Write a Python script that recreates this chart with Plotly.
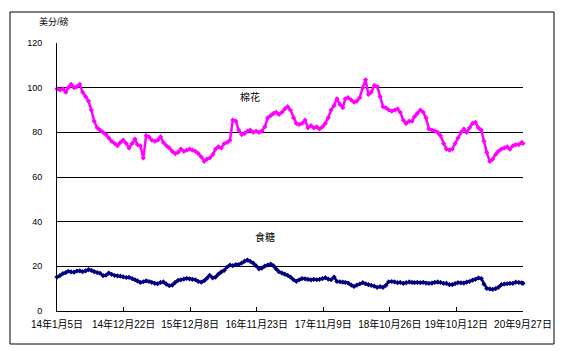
import plotly.graph_objects as go

# ---------------- data ----------------
tick_dates = ["2014-01-05", "2014-12-22", "2015-12-08", "2016-11-23",
              "2017-11-09", "2018-10-26", "2019-10-12", "2020-09-27"]
tick_labels = ["14年1月5日", "14年12月22日", "15年12月8日", "16年11月23日",
               "17年11月9日", "18年10月26日", "19年10月12日", "20年9月27日"]

# sampling dates: 5th and 20th of every month, Jan 2014 - Sep 2020, plus last date
dates = []
for y in range(2014, 2021):
    for m in range(1, 13):
        if y == 2020 and m > 9:
            break
        dates.append(f"{y}-{m:02d}-05")
        dates.append(f"{y}-{m:02d}-20")
dates.append("2020-09-27")

cotton_2014 = [99.5, 99, 99.5, 98, 100, 101.5, 100, 100.5, 101.5, 98, 96, 94,
               90, 85, 82, 81, 80, 79, 77.5, 76, 75, 74, 75.5, 76.5]
cotton_2015 = [75, 73, 75, 77, 74.5, 74, 68.5, 78.5, 78, 76.5, 76, 76.5,
               78, 75.5, 74, 73, 71.5, 70.5, 71, 72.5, 71.5, 72, 72.5, 72]
cotton_2016 = [71.5, 70.5, 69, 67, 68, 68.5, 70, 72.5, 73.5, 73, 75, 75.5,
               76.5, 85.5, 85, 81, 79, 79.5, 80.5, 81, 80, 80.5, 80, 80.5]
cotton_2017 = [82.5, 86.5, 87.5, 88.5, 89, 88, 89, 90.5, 91.5, 90, 86.5, 84,
               83.5, 84, 85.5, 82, 83, 82, 82.5, 81.5, 82.5, 84, 86.5, 90]
cotton_2018 = [92, 95, 92.5, 91, 95, 95.5, 94.5, 93.5, 94, 95.5, 100, 103.5,
               97, 98, 101, 100.5, 96, 91.5, 91, 90, 89.5, 90, 90.5, 89]
cotton_2019 = [85.5, 84, 85, 85, 87, 88.5, 90, 89, 86.5, 81.5, 81, 80.5,
               80, 78.5, 75, 72.5, 72, 72.5, 75, 77.5, 80, 81.5, 80, 82]
cotton_2020 = [84, 84.5, 82, 81, 76, 71, 67, 68, 70, 71.5, 72.5, 73,
               73.5, 72.5, 74, 74.5, 74.5, 75.5, 75]

sugar_2014 = [15.2, 15.8, 16.8, 17.2, 17.8, 17.5, 17.4, 17.9, 18, 17.6, 18, 18.5,
              18.2, 17.6, 17.2, 16.9, 15.8, 16, 17, 16.4, 15.9, 15.7, 15.6, 15.3]
sugar_2015 = [15, 15.1, 14.5, 14, 13.5, 12.8, 13.1, 13.5, 13.2, 12.8, 12.4, 12.2,
              12.8, 13, 12, 11.3, 11.6, 12.8, 13.7, 14, 14.3, 14.6, 14.4, 14.2]
sugar_2016 = [14, 13.2, 12.9, 13.6, 14.6, 16, 14.8, 15.2, 16.5, 17.5, 18.2, 19.7,
              20.6, 20.3, 20.8, 20.8, 21.5, 22.3, 22.8, 22.2, 21.4, 20.2, 18.9, 19.2]
sugar_2017 = [20.1, 20.6, 21, 20.2, 18.9, 17.6, 17, 16.5, 16, 15.2, 14, 13.3,
              14, 14.5, 14.4, 14.2, 13.9, 14.2, 14, 14.2, 14.5, 14.9, 14.3, 14]
sugar_2018 = [15.2, 13.2, 13.1, 12.9, 12.8, 12.5, 11.6, 11, 11.6, 12.1, 12.7, 12.2,
              11.8, 11.5, 11.1, 10.6, 10.9, 10.6, 11.5, 13.1, 13.2, 13, 12.7, 12.8]
sugar_2019 = [12.4, 12.7, 13, 12.8, 12.7, 12.8, 12.7, 12.8, 12.5, 12.4, 12.5, 12.8,
              13, 12.8, 12.4, 12.4, 11.8, 11.8, 12.3, 12.7, 12.6, 12.5, 12.9, 13.2]
sugar_2020 = [13.8, 14.2, 14.8, 14.5, 12, 10.1, 9.9, 9.7, 10, 10.6, 11.8, 12.1,
              12.2, 12.4, 12.4, 12.9, 12.8, 12.6, 12.4]

cotton = (cotton_2014 + cotton_2015 + cotton_2016 + cotton_2017 +
          cotton_2018 + cotton_2019 + cotton_2020)
sugar = (sugar_2014 + sugar_2015 + sugar_2016 + sugar_2017 +
         sugar_2018 + sugar_2019 + sugar_2020)

# ---------------- figure ----------------
FONT = "Liberation Sans, Arial, Noto Sans CJK SC, sans-serif"

fig = go.Figure()
fig.add_trace(go.Scatter(
    x=dates, y=cotton, mode="lines+markers", name="棉花",
    line=dict(color="#FF00FF", width=2.5),
    marker=dict(color="#FF00FF", size=4, symbol="diamond"),
    cliponaxis=False))
fig.add_trace(go.Scatter(
    x=dates, y=sugar, mode="lines+markers", name="食糖",
    line=dict(color="#000080", width=2.5),
    marker=dict(color="#000080", size=4, symbol="diamond"),
    cliponaxis=False))

# page body has an 8px margin; plot area in page pixels: x 57..523, y 43..311
OFF = 8
PX0, PX1, PY0, PY1 = 57, 523, 43, 311
W, H = 565 - OFF, 355 - OFF
L, T = PX0 - OFF, PY0 - OFF
pw, ph = PX1 - PX0, PY1 - PY0
R, B = W - L - pw, H - T - ph


def px(xp):
    return (xp - PX0) / pw


def py(yp):
    return (PY1 - yp) / ph


fig.update_layout(
    width=W, height=H,
    margin=dict(l=L, r=R, t=T, b=B, pad=0),
    paper_bgcolor="white", plot_bgcolor="white",
    showlegend=False,
    font=dict(family=FONT, size=10, color="black"),
    xaxis=dict(
        type="date", range=[tick_dates[0], tick_dates[-1]],
        tickmode="array", tickvals=tick_dates, ticktext=tick_labels,
        tickangle=0, showgrid=False, zeroline=False,
        showline=True, linecolor="black", linewidth=1,
        ticks="inside", ticklen=4, tickcolor="black", tickwidth=1,
        tickfont=dict(family=FONT, size=10, color="black"),
        ticklabelstandoff=4,
    ),
    yaxis=dict(
        range=[0, 120], tickmode="linear", tick0=0, dtick=20,
        showgrid=True, gridcolor="black", gridwidth=1,
        zeroline=False, showline=True, linecolor="black", linewidth=1,
        ticks="", tickfont=dict(family=FONT, size=9, color="black"),
        ticklabelstandoff=12,
    ),
)

# outer frame
fig.add_shape(type="rect", xref="paper", yref="paper",
              x0=px(10), x1=px(554), y0=py(344), y1=py(12),
              line=dict(color="black", width=1), fillcolor="rgba(0,0,0,0)",
              layer="below")

fig.add_annotation(text="美分/磅", xref="paper", yref="paper",
                   x=px(37), y=py(22),
                   xanchor="left", yanchor="middle", showarrow=False,
                   font=dict(family=FONT, size=9, color="black"))
fig.add_annotation(text="棉花", xref="paper", yref="paper",
                   x=px(249.5), y=py(97.5),
                   xanchor="center", yanchor="middle", showarrow=False,
                   font=dict(family=FONT, size=10, color="black"))
fig.add_annotation(text="食糖", xref="paper", yref="paper",
                   x=px(265), y=py(236.5),
                   xanchor="center", yanchor="middle", showarrow=False,
                   font=dict(family=FONT, size=10, color="black"))

fig.write_html("out.html")
